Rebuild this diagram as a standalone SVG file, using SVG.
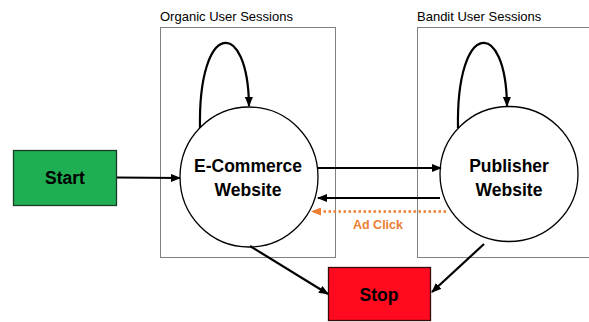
<svg xmlns="http://www.w3.org/2000/svg" width="589" height="322" viewBox="0 0 589 322">
<style>
.box{fill:none;stroke:#808080;stroke-width:1}
.title{font-family:"Liberation Sans",Arial,sans-serif;font-size:13px;fill:#000}
.node{fill:#fff;stroke:#000;stroke-width:1.3}
.lbl{font-family:"Liberation Sans",Arial,sans-serif;font-weight:bold;font-size:17.5px;fill:#000;text-anchor:middle}
.edge{fill:none;stroke:#000;stroke-width:2.2}
.ad{fill:none;stroke:#ED7D31;stroke-width:2.5;stroke-dasharray:2.5,2.5}
</style>
<defs>
<marker id="ah" markerWidth="10" markerHeight="8" refX="9" refY="4" orient="auto" markerUnits="userSpaceOnUse">
<path d="M0,0 L10,4 L0,8 Z" fill="#000"/>
</marker>
<marker id="aho" markerWidth="10" markerHeight="8" refX="9" refY="4" orient="auto" markerUnits="userSpaceOnUse">
<path d="M0,0 L10,4 L0,8 Z" fill="#ED7D31"/>
</marker>
</defs>
<g id="organic-sessions">
<rect class="box" x="160.5" y="27.5" width="175" height="230"/>
<text class="title" x="160" y="21">Organic User Sessions</text>
</g>
<g id="bandit-sessions">
<rect class="box" x="417.5" y="27.5" width="180" height="230"/>
<text class="title" x="417" y="21">Bandit User Sessions</text>
</g>
<g id="start">
<rect x="13.5" y="150.5" width="103" height="55" fill="#1FAE52" stroke="#1a3d2a" stroke-width="1.3"/>
<text class="lbl" x="65" y="184">Start</text>
</g>
<g id="stop">
<rect x="328.5" y="267.5" width="102" height="53" fill="#FF0A1E" stroke="#3a0a0a" stroke-width="1.3"/>
<text class="lbl" x="379" y="301">Stop</text>
</g>
<g id="ecommerce">
<ellipse class="node" cx="249" cy="177" rx="69" ry="70"/>
<text class="lbl" x="248" y="172">E-Commerce</text>
<text class="lbl" x="248" y="196">Website</text>
</g>
<g id="publisher">
<ellipse class="node" cx="509" cy="174" rx="69" ry="67.5"/>
<text class="lbl" x="509" y="172">Publisher</text>
<text class="lbl" x="509" y="196">Website</text>
</g>
<g id="connectors">
<path class="edge" d="M117,177.5 L180,178" marker-end="url(#ah)"/>
<path class="edge" d="M200,128 C198,20 248,17 249,106" marker-end="url(#ah)"/>
<path class="edge" d="M458,128 C456,20 506,17 507,106" marker-end="url(#ah)"/>
<path class="edge" d="M318,168 L441,168" marker-end="url(#ah)"/>
<path class="edge" d="M440,198 L318,198" marker-end="url(#ah)"/>
<path class="ad" d="M446,211.5 L312,211.5" marker-end="url(#aho)"/>
<text x="378" y="229" font-family="Liberation Sans,Arial,sans-serif" font-weight="bold" font-size="12.5px" fill="#ED7D31" text-anchor="middle">Ad Click</text>
<path class="edge" d="M250,246 L328,294" marker-end="url(#ah)"/>
<path class="edge" d="M484,244 L432,292" marker-end="url(#ah)"/>
</g>
</svg>
